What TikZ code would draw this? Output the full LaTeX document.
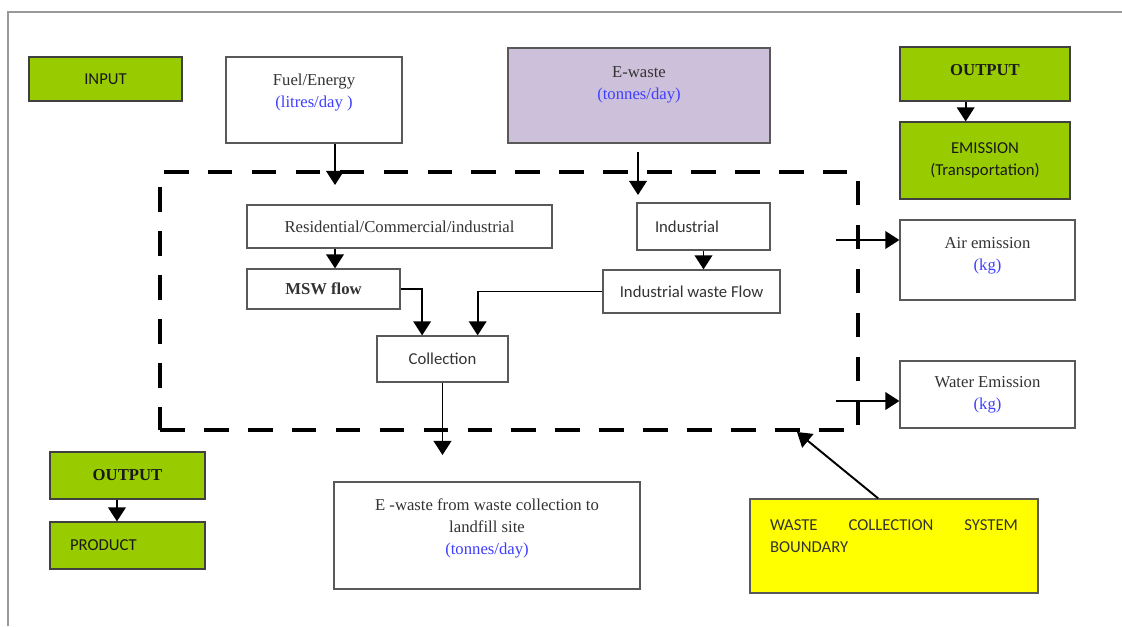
\documentclass[tikz,border=0pt]{standalone}
\usepackage{fontspec}
\setmainfont{Liberation Serif}
\newfontfamily\calibfont{Carlito}
\usetikzlibrary{arrows.meta}
\definecolor{boxgreen}{HTML}{99CC00}
\definecolor{ewastelilac}{HTML}{CCC0DA}
\definecolor{unitblue}{HTML}{3F3FFF}
\definecolor{notegold}{HTML}{FFFF00}
\newcommand{\unitlbl}[1]{\textcolor{unitblue}{#1}}
\begin{document}
\begin{tikzpicture}[x=0.02cm,y=-0.02cm,
    box/.style={draw=black!65, line width=0.7pt, fill=white, text=black!80,
        font=\fontsize{9.5}{12.5}\selectfont, align=center},
    sansbox/.style={box, font=\calibfont\fontsize{9.5}{12.5}\selectfont},
    greenfill/.style={fill=boxgreen, draw=black!75, text=black!90},
    greenserif/.style={box, greenfill, font=\fontsize{9.5}{12.5}\selectfont\bfseries},
    arr/.style={-{Triangle[width=10pt,length=8pt]}, line width=1.1pt, black},
    boundary/.style={draw, line width=2.6pt, dash pattern=on 14pt off 11pt},
    frame/.style={draw=black!40, line width=1.2pt}]
    \useasboundingbox (0,0) rectangle (1122,626);
    %page frame
    \draw[frame] (8,626) -- (8,12) -- (1122,12);

    %system boundary
    \node[boundary, minimum width=13.96cm, minimum height=5.16cm] (bnd) at (509,301) {};

    % top row
    \node[sansbox, greenfill, minimum width=3.06cm, minimum height=0.88cm] (input) at (105.5,79) {INPUT};
    \node[box, minimum width=3.52cm, minimum height=1.72cm, text depth=10.8pt] (fuel) at (314,100) {Fuel/Energy\\\unitlbl{(litres/day )}};
    \node[box, fill=ewastelilac, minimum width=5.24cm, minimum height=1.9cm, text depth=14.7pt] (ewaste) at (639,95.5) {E-waste\\\unitlbl{(tonnes/day)}};
    \node[greenserif, minimum width=3.4cm, minimum height=1.08cm, text depth=5pt] (outtop) at (985,74) {OUTPUT};
    \node[sansbox, greenfill, minimum width=3.4cm, minimum height=1.54cm] (emis) at (985,160.5) {EMISSION\\(Transportation)};

    % inside the boundary
    \node[box, minimum width=6.1cm, minimum height=0.86cm] (resi) at (399.5,226.5) {Residential/Commercial/industrial};
    \node[box, font=\fontsize{9.5}{12.5}\selectfont\bfseries, minimum width=3.06cm, minimum height=0.8cm] (msw) at (323.5,289) {MSW flow};
    \node[sansbox, minimum width=2.66cm, minimum height=0.94cm, inner xsep=0.36cm, text width=1.94cm, align=left] (ind) at (703.5,226.5) {Industrial};
    \node[sansbox, minimum width=3.54cm, minimum height=0.86cm] (iwf) at (691.5,291.5) {Industrial waste Flow};
    \node[sansbox, minimum width=2.62cm, minimum height=0.92cm] (coll) at (442.5,359) {Collection};

    % emissions
    \node[box, minimum width=3.5cm, minimum height=1.6cm, text depth=7.4pt] (air) at (987.5,260) {Air emission\\\unitlbl{(kg)}};
    \node[box, minimum width=3.5cm, minimum height=1.34cm] (water) at (987.5,394.5) {Water Emission\\\unitlbl{(kg)}};

    % bottom row
    \node[greenserif, minimum width=3.1cm, minimum height=0.94cm] (outbl) at (127.5,475.5) {OUTPUT};
    \node[sansbox, greenfill, minimum width=3.1cm, minimum height=0.94cm, inner xsep=0.4cm, text width=2.3cm, align=left] (product) at (127.5,545.5) {PRODUCT};
    \node[box, minimum width=6.12cm, minimum height=2.14cm, text depth=10.2pt] (landfill) at (487,535.5) {E -waste from waste collection to\\landfill site\\\unitlbl{(tonnes/day)}};
    \node[sansbox, fill=notegold, draw=black!65, minimum width=5.76cm, minimum height=1.88cm, inner xsep=0.4cm, text width=4.96cm, align=justify, text depth=24pt] (note) at (894,546) {WASTE COLLECTION SYSTEM\linebreak BOUNDARY};

    \coordinate (fuelin) at (335,185);
    \coordinate (ewin) at (638,195);
    \coordinate (airsrc) at (836,240);
    \coordinate (watsrc) at (836,401);
    \coordinate (bndmark) at (797,432);

    % vertical
    \draw[arr] (fuel.south -| fuelin) -- (fuelin);
    \draw[arr] ([yshift=-5pt]ewaste.south -| ewin) -- (ewin);
    \draw[arr] (resi.south -| fuelin) -- (msw.north -| fuelin);
    \draw[arr] (ind.south) -- (ind.south |- iwf.north);
    \draw[arr] (msw.east) -| ([xshift=-11.6pt]coll.north);
    \draw[arr] (iwf.west) -| ([xshift=20pt]coll.north);
    \draw[arr, shorten >=15pt] (coll.south) -- (coll.south |- landfill.north);
    \draw[arr] ([xshift=-11pt]outtop.south) -- ([xshift=-11pt]emis.north);
    \draw[arr] ([xshift=-6pt]outbl.south) -- ([xshift=-6pt]product.north);

    % horizental
    \draw[arr] (airsrc) -- (airsrc -| air.west);
    \draw[arr] (watsrc) -- (watsrc -| water.west);

    %pointer to boundary
    \draw[arr] ([xshift=-9pt]note.north) -- (bndmark);
\end{tikzpicture}
\end{document}
